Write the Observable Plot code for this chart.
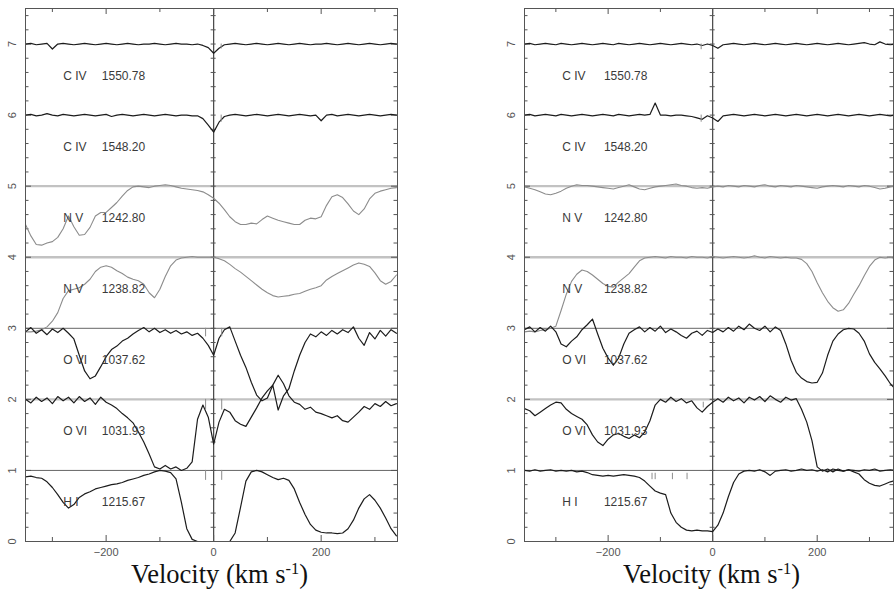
<!DOCTYPE html>
<html>
<head>
<meta charset="utf-8">
<script src="https://cdn.jsdelivr.net/npm/d3@7"></script>
<script src="https://cdn.jsdelivr.net/npm/@observablehq/plot@0.6"></script>
<style>
  body { margin: 0; background: #fff; }
  #wrap { position: relative; width: 895px; height: 589px; background: #fff; overflow: hidden; }
  .panel { position: absolute; top: 0; }
  .cap { position: absolute; top: 561px; font-family: "Liberation Serif", "Times New Roman", serif; font-size: 26.5px; line-height: 26.5px; color: #111; white-space: nowrap; }
  .cap sup { font-size: 0.62em; line-height: 0; vertical-align: 0.55em; }
</style>
</head>
<body>
<div id="wrap">
  <div id="L" class="panel" style="left:0"></div>
  <div id="R" class="panel" style="left:447px"></div>
  <div class="cap" style="left:131px">Velocity (km s<sup>-1</sup>)</div>
  <div class="cap" style="left:623px">Velocity (km s<sup>-1</sup>)</div>
</div>
<script>
// ---------- labels / ticks ----------
const ions   = ["C IV", "C IV", "N V", "N V", "O VI", "O VI", "H I"];
const waves  = ["1550.78", "1548.20", "1242.80", "1238.82", "1037.62", "1031.93", "1215.67"];
const levels = [6, 5, 4, 3, 2, 1, 0];
const yLabels = [0, 1, 2, 3, 4, 5, 6, 7];
const xLabels = [-200, 0, 200];
const xTicks = [-300, -200, -100, 0, 100, 200, 300];
const xMajor = [-200, 0, 200];
const grayLevels = [5, 4, 2];
const darkLevels = [3, 1];

// ---------- left panel (velocity grid + spectra) ----------
const vLeft = [-350,-340,-330,-320,-310,-300,-290,-280,-270,-260,-250,-240,-230,-220,-210,-200,-190,-180,-170,-160,-150,-140,-130,-120,-110,-100,-90,-80,-70,-60,-50,-40,-30,-20,-10,0,10,20,30,40,50,60,70,80,90,100,110,120,130,140,150,160,170,180,190,200,210,220,230,240,250,260,270,280,290,300,310,320,330,340];

const L_CIV1550 = [7.00,7.01,6.99,7.00,7.01,6.93,7.00,7.01,7.00,6.99,
  7.00,7.01,7.00,6.99,7.00,7.01,7.00,6.99,7.00,7.01,
  7.00,6.99,7.00,7.00,7.01,7.00,6.99,7.00,7.01,7.00,
  7.00,6.99,7.00,6.98,6.95,6.87,6.94,6.99,7.00,7.01,
  7.00,6.99,7.00,7.01,7.00,6.99,7.00,7.01,7.00,6.99,
  7.00,7.01,7.00,6.99,7.00,7.00,7.01,7.00,6.99,7.00,
  7.01,7.00,6.99,7.00,7.01,7.00,6.99,7.00,7.01,7.00];
const L_CIV1548 = [6.00,6.01,5.99,6.00,6.02,6.00,5.99,6.01,6.00,5.99,
  6.00,6.01,6.00,5.99,6.00,6.01,5.98,6.00,6.01,6.00,
  5.99,6.00,6.01,6.00,5.99,6.00,6.01,6.00,5.99,6.00,
  6.00,5.99,5.99,5.95,5.86,5.76,5.90,5.98,6.00,6.01,
  6.00,5.99,6.00,6.01,6.00,5.99,6.00,6.01,6.00,5.99,
  6.00,6.01,6.00,5.99,6.00,5.92,6.00,6.01,5.99,6.00,
  6.01,6.00,5.99,6.00,6.01,6.00,5.99,6.00,6.01,6.00];
const L_NV1242 = [4.46,4.30,4.18,4.17,4.20,4.22,4.28,4.40,4.58,4.43,
  4.31,4.32,4.42,4.58,4.63,4.63,4.70,4.77,4.86,4.94,
  4.99,5.00,4.99,4.98,5.00,5.01,5.02,5.01,4.99,4.97,
  4.96,4.95,4.94,4.92,4.88,4.83,4.76,4.67,4.57,4.50,
  4.46,4.46,4.48,4.47,4.53,4.58,4.55,4.52,4.50,4.48,
  4.46,4.46,4.52,4.55,4.54,4.57,4.73,4.85,4.88,4.84,
  4.75,4.65,4.60,4.68,4.82,4.90,4.93,4.95,4.97,4.98];
const L_NV1238 = [2.95,2.95,2.96,2.98,3.02,3.10,3.22,3.42,3.53,3.55,
  3.57,3.62,3.69,3.80,3.86,3.88,3.86,3.81,3.77,3.72,
  3.69,3.67,3.62,3.50,3.43,3.55,3.73,3.88,3.96,3.99,
  4.00,4.01,4.00,4.00,4.00,4.00,3.98,3.95,3.90,3.84,
  3.79,3.73,3.67,3.61,3.55,3.50,3.46,3.44,3.45,3.46,
  3.48,3.49,3.52,3.55,3.57,3.60,3.68,3.73,3.77,3.81,
  3.85,3.89,3.92,3.90,3.87,3.78,3.67,3.62,3.66,3.75];
const L_OVI1037 = [2.95,3.01,2.93,2.98,2.91,2.99,2.94,3.00,2.93,2.85,
  2.62,2.40,2.29,2.33,2.46,2.60,2.70,2.75,2.82,2.86,
  2.92,2.97,3.01,2.95,3.00,2.94,2.98,2.93,2.97,2.92,
  2.95,2.90,2.93,2.86,2.76,2.62,2.86,2.98,3.02,2.82,
  2.62,2.45,2.24,2.06,1.98,2.02,2.20,1.85,2.05,2.15,
  2.40,2.62,2.80,2.92,2.88,2.95,2.90,2.97,2.92,2.98,
  2.94,3.02,2.86,2.76,2.94,2.85,2.97,2.89,2.98,2.93];
const L_OVI1031 = [2.00,1.95,2.03,1.97,2.02,1.94,2.04,1.98,2.03,1.95,
  2.04,1.97,2.02,1.93,2.03,1.96,1.92,1.87,1.80,1.74,
  1.67,1.54,1.40,1.23,1.05,1.02,1.07,1.02,1.05,1.00,
  1.03,1.12,1.72,1.92,1.75,1.37,1.68,1.86,1.82,1.70,
  1.65,1.62,1.75,1.88,2.02,2.12,2.20,2.34,2.22,2.05,
  1.96,1.93,1.86,1.89,1.82,1.80,1.77,1.74,1.77,1.70,
  1.68,1.75,1.82,1.90,1.86,1.94,1.90,1.97,1.91,1.94];
const L_HI1215 = [0.91,0.92,0.90,0.89,0.84,0.76,0.66,0.55,0.47,0.52,
  0.62,0.67,0.70,0.74,0.76,0.78,0.80,0.81,0.83,0.86,
  0.88,0.90,0.93,0.95,0.98,1.00,0.99,0.97,0.88,0.55,
  0.18,0.03,0.00,0.00,0.00,0.00,0.00,0.00,0.00,0.12,
  0.48,0.85,0.98,1.00,0.98,0.94,0.90,0.87,0.89,0.86,
  0.74,0.55,0.38,0.24,0.16,0.13,0.12,0.12,0.11,0.12,
  0.18,0.30,0.47,0.60,0.66,0.58,0.47,0.33,0.18,0.08];

// component markers (left)
const L_markV   = [14, 14, -15, 15, -15, 15, -15, 15];
const L_markTop = [7.0, 6.0, 3.0, 3.0, 2.0, 2.0, 1.0, 1.0];
const L_markBot = [6.93, 5.90, 2.88, 2.88, 1.85, 1.85, 0.86, 0.86];

// ---------- right panel ----------
const vRight = [-360,-350,-340,-330,-320,-310,-300,-290,-280,-270,-260,-250,-240,-230,-220,-210,-200,-190,-180,-170,-160,-150,-140,-130,-120,-110,-100,-90,-80,-70,-60,-50,-40,-30,-20,-10,0,10,20,30,40,50,60,70,80,90,100,110,120,130,140,150,160,170,180,190,200,210,220,230,240,250,260,270,280,290,300,310,320,330,340,350];

const R_CIV1550 = [7.00,7.01,6.99,7.00,7.01,7.00,6.99,7.01,7.00,6.99,
  7.00,7.01,7.00,6.99,7.00,7.01,7.00,6.99,7.01,7.00,
  6.99,7.00,7.01,7.00,6.99,7.00,7.01,7.00,6.99,7.00,
  7.01,7.00,6.99,7.00,6.98,7.00,6.98,6.94,6.99,7.00,
  7.01,7.00,6.99,7.00,7.01,7.00,6.99,7.00,7.01,7.00,
  6.99,7.00,7.01,7.00,6.99,7.00,7.01,7.00,6.99,7.00,
  7.01,7.00,6.99,7.00,7.01,7.02,7.00,6.99,7.03,7.00,6.99,7.00];
const R_CIV1548 = [6.00,6.01,5.99,6.00,6.01,6.00,5.99,6.01,6.00,5.99,
  6.00,6.01,6.00,5.99,6.00,6.01,6.00,5.99,6.01,6.00,
  5.99,6.00,6.01,6.00,6.01,6.17,6.00,6.00,5.99,6.00,
  6.00,5.99,5.98,5.96,5.94,5.99,5.96,5.91,5.99,6.00,
  6.01,6.00,5.99,6.00,6.01,6.00,5.99,6.00,6.01,6.00,
  5.99,6.00,6.01,6.00,5.99,6.00,6.01,6.00,5.99,6.00,
  6.01,6.00,5.99,6.00,6.01,6.00,5.99,6.00,6.01,6.00,5.99,6.00];
const R_NV1242 = [4.99,4.97,4.95,4.92,4.89,4.88,4.90,4.93,4.97,5.00,
  5.02,5.01,5.01,5.00,4.99,4.98,4.97,4.96,4.98,5.00,
  5.02,4.99,4.96,4.95,4.97,4.99,5.00,5.01,5.02,5.03,
  5.01,5.00,4.98,4.97,4.98,4.97,4.99,5.00,4.99,5.01,
  5.00,4.99,5.01,5.00,4.99,5.01,5.02,5.00,4.99,5.01,
  5.00,4.99,5.01,5.00,4.99,4.98,4.97,4.99,5.00,5.01,
  5.00,4.99,5.01,5.00,4.99,5.01,5.00,4.98,4.96,4.97,4.99,5.00];
const R_NV1238 = [2.95,2.96,2.95,2.97,2.98,3.00,3.03,3.25,3.48,3.66,
  3.76,3.82,3.80,3.75,3.69,3.63,3.59,3.58,3.65,3.71,
  3.77,3.86,3.95,3.99,4.00,4.01,4.00,3.99,4.01,4.00,
  4.00,3.99,4.01,4.00,4.00,3.99,4.01,4.00,3.99,4.00,
  4.01,4.00,3.99,4.00,4.02,4.00,3.99,4.01,4.00,3.99,
  4.00,3.99,3.99,3.97,3.91,3.80,3.64,3.50,3.38,3.29,
  3.24,3.26,3.35,3.48,3.60,3.74,3.87,3.96,4.00,3.99,4.00,3.98];
const R_OVI1037 = [2.98,3.02,2.95,3.01,2.96,3.03,2.95,2.78,2.74,2.82,
  2.88,2.98,3.05,3.13,2.92,2.72,2.58,2.48,2.58,2.78,
  2.93,2.98,3.02,2.95,3.01,2.96,3.03,2.94,2.99,2.95,
  2.90,2.86,2.93,2.96,2.90,2.97,2.94,2.99,2.95,3.01,
  2.96,3.03,2.98,3.06,3.00,2.97,3.03,2.95,3.02,2.97,
  2.78,2.55,2.38,2.30,2.25,2.23,2.24,2.37,2.62,2.82,
  2.92,2.98,3.00,2.99,2.93,2.82,2.64,2.52,2.43,2.33,2.22,2.14];
const R_OVI1031 = [1.87,1.84,1.77,1.82,1.87,1.92,1.96,1.95,1.86,1.80,
  1.76,1.72,1.64,1.50,1.40,1.35,1.44,1.50,1.52,1.48,
  1.45,1.50,1.46,1.54,1.70,1.92,2.00,1.96,2.03,1.97,
  2.01,1.95,1.98,1.88,1.82,1.90,1.96,2.01,1.96,2.03,
  1.98,2.02,1.95,2.03,1.99,2.04,1.97,2.05,2.00,1.96,
  2.03,1.99,2.01,1.86,1.68,1.42,1.05,0.99,1.02,0.98,
  1.02,0.99,1.01,0.98,0.95,0.87,0.82,0.79,0.78,0.81,0.84,0.86];
const R_HI1215 = [1.00,0.99,1.01,0.99,1.00,1.01,0.99,1.00,0.99,1.00,
  0.98,0.99,0.97,0.94,0.93,0.92,0.93,0.92,0.93,0.94,
  0.93,0.92,0.90,0.85,0.78,0.71,0.68,0.66,0.40,0.27,
  0.20,0.16,0.15,0.16,0.15,0.15,0.14,0.23,0.40,0.63,
  0.83,0.95,0.99,1.00,0.99,1.01,0.98,0.93,0.99,1.00,
  1.01,0.99,1.00,1.02,1.00,1.01,0.99,1.01,0.98,1.02,
  1.00,0.99,1.01,1.00,0.99,1.01,1.00,1.02,0.99,1.00,1.01,1.00];

// component markers (right)
const R_markV   = [-22, -22, -18, -116, -110, -77, -49];
const R_markTop = [7.0, 6.0, 1.96, 0.96, 0.96, 0.96, 0.96];
const R_markBot = [6.92, 5.90, 1.88, 0.87, 0.87, 0.87, 0.87];

// ---------- drawing ----------
const H = 565, MT = 8, MB = 24;
const YDOM = [0, 7.5];
const yTicks = d3.range(0, 7.41, 0.2).map(d => +d.toFixed(1));
const isInt = d => Math.abs(d - Math.round(d)) < 1e-6;

function drawPanel(el, cfg) {
  const {v, series, domain, width, ml, mr, ionX, waveX, mV, mTop, mBot} = cfg;
  const rows = [];
  series.forEach((s, k) => s.values.forEach((y, i) => rows.push({v: v[i], y, key: k, gray: s.gray})));
  const markers = mV.map((x, i) => ({v: x, top: mTop[i], bot: mBot[i]}));
  const kx = (width - ml - mr) / (domain[1] - domain[0]);
  const ky = (H - MT - MB) / (YDOM[1] - YDOM[0]);
  const ux = px => px / kx, uy = px => px / ky;
  const tickStroke = "#555";
  const svg = Plot.plot({
    width, height: H,
    marginLeft: ml, marginRight: mr, marginTop: MT, marginBottom: MB,
    x: {domain, label: null},
    y: {domain: YDOM, label: null},
    style: {fontFamily: "'Liberation Sans', Arial, sans-serif", background: "#fff", color: "#444", overflow: "visible"},
    marks: [
      Plot.ruleY(grayLevels, {stroke: "#c2c2c2", strokeWidth: 2.4}),
      Plot.ruleY(darkLevels, {stroke: "#666", strokeWidth: 1}),
      Plot.ruleX([0], {stroke: "#444", strokeWidth: 1.2}),
      Plot.ruleY(yTicks, {y: d => d, x1: -ux(2.5), x2: ux(2.5), stroke: tickStroke}),
      Plot.ruleY(yTicks, {y: d => d, x1: domain[0], x2: d => domain[0] + ux(isInt(d) ? 6 : 3.5), stroke: tickStroke}),
      Plot.ruleY(yTicks, {y: d => d, x1: domain[1], x2: d => domain[1] - ux(isInt(d) ? 6 : 3.5), stroke: tickStroke}),
      Plot.ruleX(xTicks, {x: d => d, y1: YDOM[0], y2: d => YDOM[0] + uy(xMajor.includes(d) ? 6 : 4), stroke: tickStroke}),
      Plot.ruleX(xTicks, {x: d => d, y1: YDOM[1], y2: d => YDOM[1] - uy(xMajor.includes(d) ? 6 : 4), stroke: tickStroke}),
      Plot.line(rows.filter(r => r.gray), {x: "v", y: "y", z: "key", stroke: "#8c8c8c", strokeWidth: 1.1, clip: true}),
      Plot.line(rows.filter(r => !r.gray), {x: "v", y: "y", z: "key", stroke: "#1c1c1c", strokeWidth: 1.2, clip: true}),
      Plot.ruleX(markers, {x: "v", y1: "top", y2: "bot", stroke: "#8c8c8c", strokeWidth: 1}),
      Plot.text(levels, {x: () => ionX, y: d => d + 0.55, text: (d, i) => ions[i], textAnchor: "start", fontSize: 12, fill: "#3a3a3a"}),
      Plot.text(levels, {x: () => waveX, y: d => d + 0.55, text: (d, i) => waves[i], textAnchor: "start", fontSize: 12, fill: "#3a3a3a"}),
      Plot.axisX(xLabels, {tickSize: 0, tickPadding: 7, fontSize: 11, fill: "#555", label: null}),
      Plot.axisY(yLabels, {tickSize: 0, tickRotate: -90, tickPadding: 10, fontSize: 11, fill: "#555", label: null, tickFormat: d => String(d)}),
      Plot.frame({stroke: "#555", strokeWidth: 1})
    ]
  });
  el.appendChild(svg);
}

drawPanel(document.getElementById("L"), {
  v: vLeft,
  series: [
    {values: L_CIV1550, gray: false}, {values: L_CIV1548, gray: false},
    {values: L_NV1242, gray: true}, {values: L_NV1238, gray: true},
    {values: L_OVI1037, gray: false}, {values: L_OVI1031, gray: false},
    {values: L_HI1215, gray: false}
  ],
  domain: [-350, 342], width: 447, ml: 25, mr: 50,
  ionX: -280, waveX: -208,
  mV: L_markV, mTop: L_markTop, mBot: L_markBot
});

drawPanel(document.getElementById("R"), {
  v: vRight,
  series: [
    {values: R_CIV1550, gray: false}, {values: R_CIV1548, gray: false},
    {values: R_NV1242, gray: true}, {values: R_NV1238, gray: true},
    {values: R_OVI1037, gray: false}, {values: R_OVI1031, gray: false},
    {values: R_HI1215, gray: false}
  ],
  domain: [-360, 346], width: 448, ml: 77, mr: 2,
  ionX: -288, waveX: -208,
  mV: R_markV, mTop: R_markTop, mBot: R_markBot
});
</script>
</body>
</html>
